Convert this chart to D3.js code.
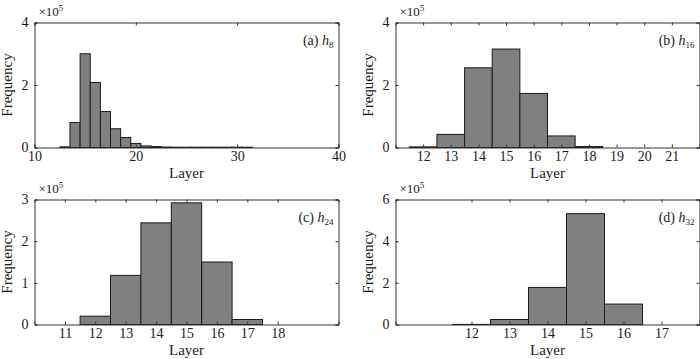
<!DOCTYPE html>
<html>
<head>
<meta charset="utf-8">
<script src="https://cdn.jsdelivr.net/npm/d3@7"></script>
<style>
  body { margin: 0; background: #fff; }
  svg text { font-family: "Liberation Serif", "Times New Roman", serif; fill: #1a1a1a; }
</style>
</head>
<body>
<div id="chart"></div>
<script>
// histogram counts, units of 1e5, one bin per integer layer
var binsA = [13, 14, 15, 16, 17, 18, 19, 20, 21, 22, 23, 24, 25, 26, 27, 28, 29, 30, 31];
var valsA = [0.02, 0.8, 3.0, 2.08, 1.15, 0.6, 0.32, 0.13, 0.05, 0.03, 0.015, 0.01, 0.01, 0.01, 0.01, 0.01, 0.01, 0.01, 0.01];
var binsB = [12, 13, 14, 15, 16, 17, 18];
var valsB = [0.02, 0.42, 2.55, 3.15, 1.73, 0.37, 0.03];
var binsC = [12, 13, 14, 15, 16, 17];
var valsC = [0.2, 1.18, 2.44, 2.92, 1.5, 0.12];
var binsD = [12, 13, 14, 15, 16];
var valsD = [0.005, 0.24, 1.78, 5.32, 0.98];

var xTicksA = [10, 20, 30, 40];
var xTicksB = [12, 13, 14, 15, 16, 17, 18, 19, 20, 21];
var xTicksC = [11, 12, 13, 14, 15, 16, 17, 18];
var xTicksD = [12, 13, 14, 15, 16, 17];
var yTicksA = [0, 2, 4];
var yTicksB = [0, 2, 4];
var yTicksC = [0, 1, 2, 3];
var yTicksD = [0, 2, 4, 6];

var width = 700, height = 359;
var svg = d3.select("#chart").append("svg")
    .attr("width", width)
    .attr("height", height);

var pw = 304, ph = 125;

var panels = [
  { left: 34.5, top: 22.5, bins: binsA, vals: valsA, xd: [10, 40], yd: [0, 4], xt: xTicksA, yt: yTicksA, tag: "(a) ", sub: "8" },
  { left: 395.5, top: 22.5, bins: binsB, vals: valsB, xd: [11, 22], yd: [0, 4], xt: xTicksB, yt: yTicksB, tag: "(b) ", sub: "16" },
  { left: 34.5, top: 199.5, bins: binsC, vals: valsC, xd: [10, 20], yd: [0, 3], xt: xTicksC, yt: yTicksC, tag: "(c) ", sub: "24" },
  { left: 395.5, top: 199.5, bins: binsD, vals: valsD, xd: [10, 18], yd: [0, 6], xt: xTicksD, yt: yTicksD, tag: "(d) ", sub: "32" }
];

panels.forEach(function (p) {
  var g = svg.append("g").attr("transform", "translate(" + p.left + "," + p.top + ")");
  var x = d3.scaleLinear().domain(p.xd).range([0, pw]);
  var y = d3.scaleLinear().domain(p.yd).range([ph, 0]);
  var data = p.bins.map(function (b, i) { return { b: b, v: p.vals[i] }; });

  // bars
  g.selectAll("rect.bar")
    .data(data)
    .enter().append("rect")
    .attr("class", "bar")
    .attr("x", function (d) { return x(d.b - 0.5); })
    .attr("width", function (d) { return x(d.b + 0.5) - x(d.b - 0.5); })
    .attr("y", function (d) { return y(d.v); })
    .attr("height", function (d) { return ph - y(d.v); })
    .attr("fill", "#808080")
    .attr("stroke", "#1a1a1a")
    .attr("stroke-width", 1);

  // axes, ticks point inward like matlab
  var tl = 3;
  g.append("g").attr("transform", "translate(0," + ph + ")")
    .call(d3.axisBottom(x).tickValues(p.xt).tickSize(-tl).tickPadding(4).tickFormat(d3.format("d")));
  g.append("g")
    .call(d3.axisTop(x).tickValues(p.xt).tickSize(-tl).tickFormat(""));
  g.append("g")
    .call(d3.axisLeft(y).tickValues(p.yt).tickSize(-tl).tickPadding(6).tickFormat(d3.format("d")));
  g.append("g").attr("transform", "translate(" + pw + ",0)")
    .call(d3.axisRight(y).tickValues(p.yt).tickSize(-tl).tickFormat(""));

  g.selectAll(".domain").attr("stroke", "#333");
  g.selectAll(".tick line").attr("stroke", "#333");
  g.selectAll(".tick text")
    .style("font-family", "Liberation Serif")
    .style("font-size", "14px")
    .attr("fill", "#1a1a1a");

  // axis labels
  g.append("text")
    .attr("x", pw / 2)
    .attr("y", ph + 30)
    .attr("text-anchor", "middle")
    .style("font-size", "15px")
    .text("Layer");
  g.append("text")
    .attr("transform", "translate(-23," + (ph / 2) + ") rotate(-90)")
    .attr("text-anchor", "middle")
    .style("font-size", "15px")
    .text("Frequency");

  // exponent
  var ex = g.append("text")
    .attr("x", 4)
    .attr("y", -7)
    .style("font-size", "13px");
  ex.append("tspan").text("\u00d710");
  ex.append("tspan").attr("dy", -5).style("font-size", "9px").text("5");

  // panel tag
  var t = g.append("text")
    .attr("x", pw - 5)
    .attr("y", 22)
    .attr("text-anchor", "end")
    .style("font-size", "14px");
  t.append("tspan").text(p.tag);
  t.append("tspan").style("font-style", "italic").text("h");
  t.append("tspan").attr("dy", 3).style("font-size", "9px").text(p.sub);
});
</script>
</body>
</html>
